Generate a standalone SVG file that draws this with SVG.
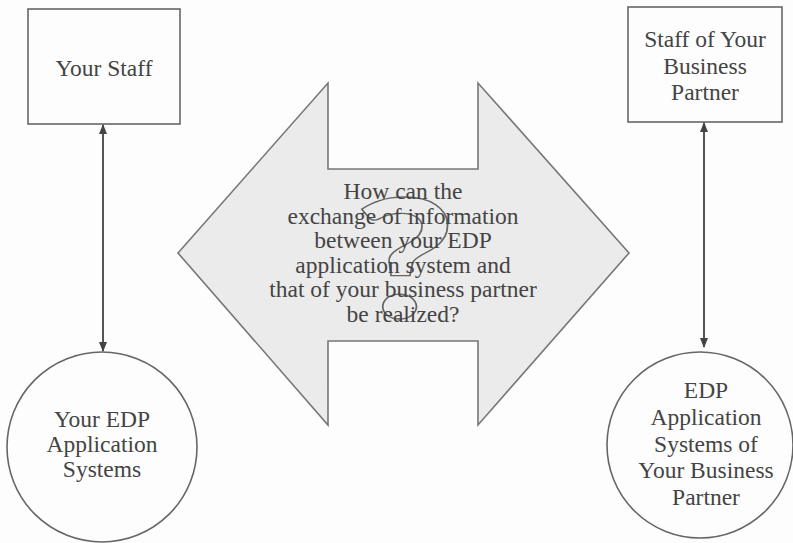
<svg xmlns="http://www.w3.org/2000/svg" width="793" height="543" viewBox="0 0 793 543">
<style>
.t{font-family:"Liberation Serif","Times New Roman",serif;font-size:23.5px;fill:#444;text-anchor:middle}
.box{fill:none;stroke:#666;stroke-width:1.6}
.con{stroke:#555;stroke-width:2;fill:none}
</style>
<defs>
<marker id="ah" markerWidth="10" markerHeight="10" refX="9" refY="5" orient="auto-start-reverse" markerUnits="userSpaceOnUse">
<path d="M0,1 L10,5 L0,9 Z" fill="#444"/>
</marker>
</defs>
<rect width="793" height="543" fill="#fdfdfd"/>
<g id="exchange">
<polygon points="178,253 328,83 328,169 478,169 478,83 629,253 478,425 478,341 328,341 328,425" fill="#ebebeb" stroke="#777" stroke-width="1.6"/>
<text transform="translate(405,318) scale(1.35,1)" x="0" y="0" font-family="Lato,'DejaVu Sans',sans-serif" font-weight="bold" font-size="165" fill="none" stroke="#666" stroke-width="1.3" text-anchor="middle">?</text>
<text class="t" x="403" y="199">How can the</text>
<text class="t" x="403" y="224">exchange of information</text>
<text class="t" x="403" y="248">between your EDP</text>
<text class="t" x="403" y="273">application system and</text>
<text class="t" x="403" y="297">that of your business partner</text>
<text class="t" x="403" y="322">be realized?</text>
</g>
<g id="your-staff">
<rect class="box" x="28" y="9" width="152" height="115"/>
<text class="t" x="104" y="76">Your Staff</text>
</g>
<g id="partner-staff">
<rect class="box" x="628" y="7" width="154" height="115"/>
<text class="t" x="705" y="47">Staff of Your</text>
<text class="t" x="705" y="74">Business</text>
<text class="t" x="705" y="100">Partner</text>
</g>
<g id="your-edp">
<circle class="box" cx="102" cy="447" r="95"/>
<text class="t" x="102" y="427">Your EDP</text>
<text class="t" x="102" y="452">Application</text>
<text class="t" x="102" y="477">Systems</text>
</g>
<g id="partner-edp">
<circle class="box" cx="700" cy="445" r="93"/>
<text class="t" x="706" y="398">EDP</text>
<text class="t" x="706" y="425">Application</text>
<text class="t" x="706" y="452">Systems of</text>
<text class="t" x="706" y="478">Your Business</text>
<text class="t" x="706" y="505">Partner</text>
</g>
<g id="connectors">
<line class="con" x1="103" y1="125" x2="103" y2="351" marker-start="url(#ah)" marker-end="url(#ah)"/>
<line class="con" x1="704" y1="123" x2="704" y2="347" marker-start="url(#ah)" marker-end="url(#ah)"/>
</g>
</svg>
